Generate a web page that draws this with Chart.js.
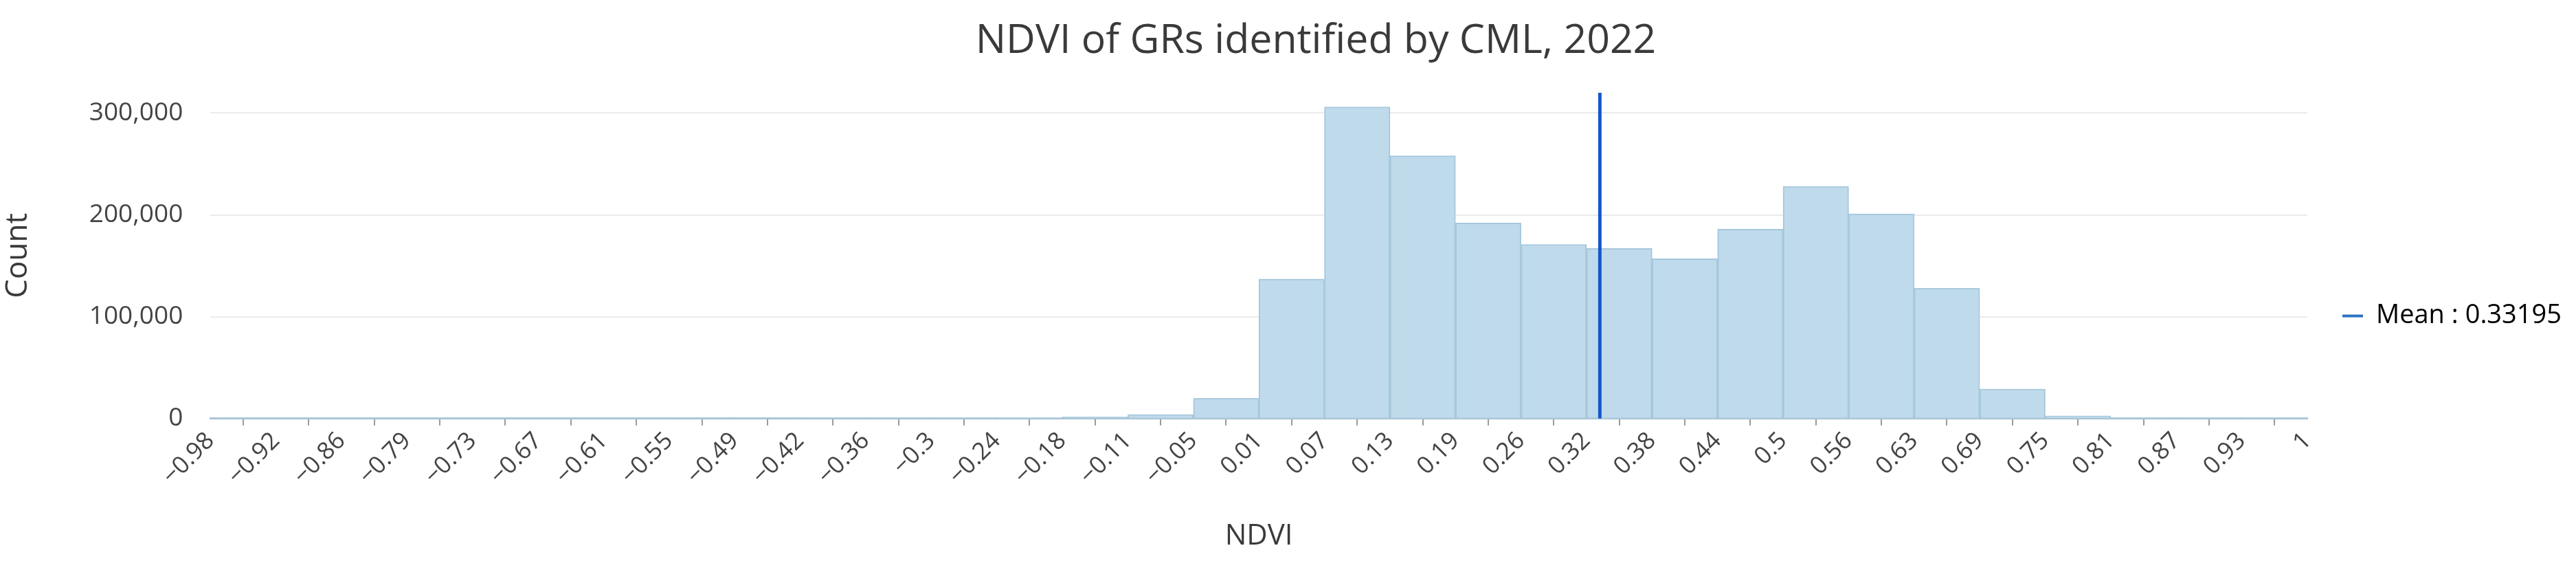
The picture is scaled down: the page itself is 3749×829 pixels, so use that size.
<!DOCTYPE html>
<html>
<head>
<meta charset="utf-8">
<script src="https://cdn.jsdelivr.net/npm/chart.js@4"></script>
<style>
  html, body { margin: 0; padding: 0; background: #ffffff; }
  #grafico { display: block; }
</style>
</head>
<body>
<canvas id="grafico" width="3749" height="829"></canvas>
<script>
// Datos del histograma
const binMin = -0.98;
const binMax = 1;
const tickLabels = ['−0.98', '−0.92', '−0.86', '−0.79', '−0.73', '−0.67', '−0.61', '−0.55', '−0.49', '−0.42',
  '−0.36', '−0.3', '−0.24', '−0.18', '−0.11', '−0.05', '0.01', '0.07', '0.13', '0.19', '0.26', '0.32',
  '0.38', '0.44', '0.5', '0.56', '0.63', '0.69', '0.75', '0.81', '0.87', '0.93', '1'];
const counts = [600, 500, 500, 500, 600, 600, 600, 700, 700, 800, 900, 1000, 1200, 1600, 4000, 20000,
  137000, 306000, 258000, 192000, 171000, 167000, 157000, 186000, 228000, 201000, 128000, 29000,
  2600, 1100, 900, 1000];
const meanValue = 0.33195;
const meanLineTop = 320000;
const yTicks = [0, 100000, 200000, 300000];

document.addEventListener('DOMContentLoaded', function () {
  const ctx = document.getElementById('grafico').getContext('2d');
  const binWidth = (binMax - binMin) / counts.length;

  const barData = counts.map((c, i) => ({ x: binMin + (i + 0.5) * binWidth, y: c }));
  const meanData = [{ x: meanValue, y: 0 }, { x: meanValue, y: meanLineTop }];

  const fuente = "'Open Sans', 'Noto Sans', sans-serif";

  // Mueve un poco el titulo a la derecha y la leyenda hacia abajo
  const ajustes = {
    id: 'ajustes',
    afterLayout: function (chart) {
      if (chart.titleBlock) {
        chart.titleBlock.left += 46;
        chart.titleBlock.right += 46;
      }
      if (chart.legend) {
        chart.legend.top += 57;
        chart.legend.bottom += 57;
      }
    }
  };

  new Chart(ctx, {
    data: {
      datasets: [
        {
          type: 'line',
          label: 'Mean : ' + meanValue,
          data: meanData,
          borderColor: '#1657c9',
          backgroundColor: '#2b73c4',
          borderWidth: 5,
          pointRadius: 0,
          order: 0
        },
        {
          type: 'bar',
          label: 'Count',
          data: barData,
          backgroundColor: '#bfdbeb',
          borderColor: '#a6c7dc',
          borderWidth: 2,
          barPercentage: 1,
          categoryPercentage: 1,
          order: 1
        }
      ]
    },
    plugins: [ajustes],
    options: {
      responsive: false,
      animation: false,
      devicePixelRatio: 1,
      layout: {
        padding: { top: 0, right: 11, bottom: 24, left: 0 }
      },
      plugins: {
        title: {
          display: true,
          text: 'NDVI of GRs identified by CML, 2022',
          color: '#3a3a3a',
          font: { family: fuente, size: 59, weight: 'normal' },
          padding: { top: 25, bottom: 39 }
        },
        legend: {
          display: true,
          position: 'right',
          labels: {
            color: '#3a3a3a',
            font: { family: fuente, size: 38 },
            boxWidth: 30,
            boxHeight: 4,
            padding: 51,
            generateLabels: function () {
              return [{
                text: 'Mean : ' + meanValue,
                fillStyle: '#2b73c4',
                strokeStyle: '#2b73c4',
                lineWidth: 0,
                datasetIndex: 0
              }];
            }
          }
        },
        tooltip: { enabled: false }
      },
      scales: {
        x: {
          type: 'linear',
          min: binMin,
          max: binMax,
          offset: false,
          afterBuildTicks: function (scale) {
            scale.ticks = tickLabels.map((t, i) => ({ value: binMin + i * binWidth }));
          },
          ticks: {
            autoSkip: false,
            minRotation: 45,
            maxRotation: 45,
            padding: 2,
            color: '#444444',
            font: { family: fuente, size: 35 },
            callback: function (v, i) { return tickLabels[i]; }
          },
          grid: {
            drawOnChartArea: false,
            drawTicks: true,
            tickLength: 10,
            tickColor: '#9a9a9a',
            lineWidth: 2
          },
          border: {
            display: true,
            color: '#a9c4d6',
            width: 3
          },
          title: {
            display: true,
            text: 'NDVI',
            color: '#3a3a3a',
            font: { family: fuente, size: 42 },
            padding: { top: 39, bottom: 0 }
          }
        },
        y: {
          min: 0,
          max: meanLineTop,
          afterBuildTicks: function (scale) {
            scale.ticks = yTicks.map(v => ({ value: v }));
          },
          ticks: {
            padding: 40,
            color: '#444444',
            font: { family: fuente, size: 37 },
            callback: function (v) { return v.toLocaleString('en-US'); }
          },
          grid: {
            color: '#ebebeb',
            lineWidth: 2,
            drawTicks: false
          },
          border: { display: false },
          title: {
            display: true,
            text: 'Count',
            color: '#3a3a3a',
            font: { family: fuente, size: 44 },
            padding: { top: 0, bottom: 37 }
          }
        }
      }
    }
  });
});
</script>
</body>
</html>
